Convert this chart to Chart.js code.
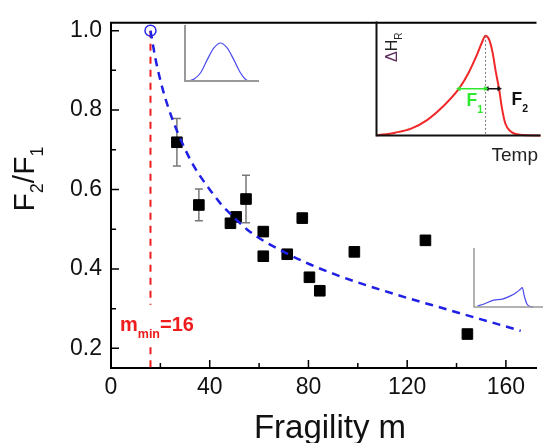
<!DOCTYPE html>
<html>
<head>
<meta charset="utf-8">
<script src="https://cdn.jsdelivr.net/npm/chart.js@4.4.1/dist/chart.umd.min.js"></script>
<style>
  body { margin: 0; background: #fff; }
  #wrap { position: relative; width: 545px; height: 443px; }
  #wrap canvas { position: absolute; }
</style>
</head>
<body>
<div id="wrap">
  <canvas id="main" width="545" height="443" style="left:0;top:0"></canvas>
  <canvas id="insetPeak" width="173" height="123" style="left:372px;top:17px"></canvas>
  <canvas id="insetSym" width="76" height="58" style="left:183px;top:25px"></canvas>
  <canvas id="insetAsym" width="71" height="61" style="left:472px;top:248px"></canvas>
</div>
<script>
// measured points: fragility m vs F2/F1
const fragility = [26.7, 35.6, 48.4, 50.7, 54.7, 61.7, 61.7, 71.4, 77.5, 80.4, 84.6, 98.6, 127.4, 144.4];
const ratio     = [0.719, 0.561, 0.515, 0.531, 0.576, 0.494, 0.432, 0.437, 0.528, 0.379, 0.345, 0.443, 0.472, 0.236];
const ratioErr  = [0.06, 0.04, 0, 0, 0.06, 0, 0, 0, 0, 0, 0, 0, 0, 0];

// dashed fit curve
const fitM     = [16, 18, 20, 22, 25, 29, 33, 36, 40, 45, 49, 55, 62, 70, 80, 90, 100, 110, 120, 130, 140, 150, 160, 166];
const fitRatio = [1.0, 0.93, 0.875, 0.83, 0.775, 0.715, 0.665, 0.635, 0.6, 0.56, 0.535, 0.5, 0.47, 0.443, 0.413, 0.388, 0.366, 0.346, 0.327, 0.309, 0.291, 0.273, 0.255, 0.244];

// m_min marker
const mMin = 16;
const mMinRatio = 1.0;
const mMinLineY = [1.0, 0.31, null, 0.203, 0.1505];

// axes
const xMin = 0, xMax = 172.4;
const yMin = 0.1505, yMax = 1.0198;
const xMajor = [0, 40, 80, 120, 160];
const xMinor = [20, 60, 100, 140];
const yMajor = [0.2, 0.4, 0.6, 0.8, 1.0];
const yMinor = [0.3, 0.5, 0.7, 0.9];

// inset: asymmetric peak, dH_R vs Temp
const peakTemp = [0, 11.3, 21.1, 30.8, 40.5, 50.3, 56.1, 61.0, 64.3, 66.5, 68.8, 70.8, 72.7, 74.7, 76.6, 78.5, 81.5, 87.3, 100];
const peakH    = [0, 0.025, 0.060, 0.135, 0.254, 0.411, 0.548, 0.700, 0.816, 0.874, 0.837, 0.727, 0.562, 0.411, 0.231, 0.107, 0.039, 0.006, 0];
const peakTop = 66.5, peakTopH = 0.874;
const f1From = 50.3, f2To = 74.7, fLevel = 0.411;

// small insets
const symX = [4.3, 9.3, 16, 22.7, 29.3, 36, 42.7, 49.3, 56, 61, 64.3];
const symY = [0.005, 0.035, 0.152, 0.386, 0.591, 0.679, 0.591, 0.386, 0.152, 0.035, 0];
const asymX = [3.7, 10.3, 20, 28.7, 37, 43, 47, 49, 51, 53.7, 57, 60];
const asymY = [0.017, 0.05, 0.117, 0.133, 0.188, 0.245, 0.30, 0.328, 0.188, 0.05, 0.008, 0];

const FONT = "'Liberation Sans', Arial, sans-serif";
const pts = (xs, ys) => xs.map((v, i) => ({ x: v, y: ys[i] }));

function richText(ctx, parts, x, y, align) {
  let w = 0;
  parts.forEach(p => { ctx.font = p.font; p.w = ctx.measureText(p.t).width; w += p.w; });
  let cx = align === 'center' ? x - w / 2 : x;
  parts.forEach(p => {
    ctx.font = p.font;
    ctx.fillStyle = p.color;
    ctx.fillText(p.t, cx, y + (p.dy || 0));
    cx += p.w;
  });
}

const mainDecor = {
  id: 'mainDecor',
  beforeDatasetsDraw(chart) {
    const { ctx, scales: { x, y } } = chart;
    ctx.save();
    ctx.strokeStyle = '#777';
    ctx.lineWidth = 1.5;
    fragility.forEach((m, i) => {
      const e = ratioErr[i];
      if (!e) return;
      const px = x.getPixelForValue(m);
      const top = y.getPixelForValue(ratio[i] + e);
      const bot = y.getPixelForValue(ratio[i] - e);
      ctx.beginPath();
      ctx.moveTo(px, top); ctx.lineTo(px, bot);
      ctx.moveTo(px - 4, top); ctx.lineTo(px + 4, top);
      ctx.moveTo(px - 4, bot); ctx.lineTo(px + 4, bot);
      ctx.stroke();
    });
    ctx.restore();
  },
  afterDraw(chart) {
    const { ctx, chartArea: a, scales: { x, y } } = chart;
    ctx.save();
    // top frame line
    ctx.strokeStyle = '#000';
    ctx.lineWidth = 2;
    ctx.beginPath();
    ctx.moveTo(a.left - 1, a.top);
    ctx.lineTo(a.right, a.top);
    ctx.stroke();

    // inward ticks
    ctx.lineWidth = 1.5;
    ctx.beginPath();
    xMajor.concat(xMinor).forEach(v => {
      const px = x.getPixelForValue(v);
      const len = xMajor.includes(v) ? 8 : 5;
      ctx.moveTo(px, a.bottom); ctx.lineTo(px, a.bottom - len);
    });
    yMajor.concat(yMinor).forEach(v => {
      const py = y.getPixelForValue(v);
      const len = yMajor.includes(v) ? 8 : 5;
      ctx.moveTo(a.left, py); ctx.lineTo(a.left + len, py);
    });
    ctx.stroke();

    ctx.textBaseline = 'alphabetic';
    ctx.textAlign = 'left';

    // y title F2/F1
    ctx.save();
    ctx.translate(34, 179);
    ctx.rotate(-Math.PI / 2);
    const big = '30px ' + FONT, sub = '18px ' + FONT;
    richText(ctx, [
      { t: 'F', font: big, color: '#111' },
      { t: '2', font: sub, color: '#111', dy: 9 },
      { t: '/F', font: big, color: '#111' },
      { t: '1', font: sub, color: '#111', dy: 9 }
    ], 0, 0, 'center');
    ctx.restore();

    // x title
    richText(ctx, [{ t: 'Fragility m', font: '33px ' + FONT, color: '#111' }], 330, 438, 'center');

    // m_min label
    richText(ctx, [
      { t: 'm', font: 'bold 20px ' + FONT, color: '#ee1c1c' },
      { t: 'min', font: 'bold 12.5px ' + FONT, color: '#ee1c1c', dy: 7 },
      { t: '=16', font: 'bold 20px ' + FONT, color: '#ee1c1c' }
    ], 120, 331);

    // inset x label
    richText(ctx, [{ t: 'Temp', font: '19px ' + FONT, color: '#222' }], 491.5, 160.5);
    ctx.restore();
  }
};

new Chart(document.getElementById('main'), {
  type: 'scatter',
  data: {
    datasets: [
      {
        label: 'fit',
        data: pts(fitM, fitRatio),
        showLine: true,
        pointRadius: 0,
        borderColor: '#1f1fe6',
        borderWidth: 2.5,
        borderDash: [8, 6],
        cubicInterpolationMode: 'monotone'
      },
      {
        label: 'm_min',
        data: [{ x: mMin, y: mMinRatio }],
        pointStyle: 'circle',
        pointRadius: 5.5,
        borderColor: '#2a2af0',
        borderWidth: 1.5,
        backgroundColor: 'rgba(0,0,0,0)'
      },
      {
        label: 'data',
        data: pts(fragility, ratio),
        pointStyle: 'rect',
        pointRadius: 7.5,
        backgroundColor: '#000',
        borderColor: '#000',
        borderWidth: 1
      },
      {
        label: 'm_min line',
        data: mMinLineY.map(v => ({ x: mMin, y: v })),
        showLine: true,
        spanGaps: false,
        pointRadius: 0,
        borderColor: '#ee1c1c',
        borderWidth: 2,
        borderDash: [7, 6]
      }
    ]
  },
  options: {
    responsive: false,
    animation: false,
    layout: { padding: { top: 17, left: 0, right: 0, bottom: 0 } },
    plugins: { legend: { display: false }, tooltip: { enabled: false } },
    scales: {
      x: {
        type: 'linear', min: xMin, max: xMax,
        afterBuildTicks: s => { s.ticks = xMajor.map(v => ({ value: v })); },
        afterFit: s => { s.height = 75; },
        grid: { display: false, drawTicks: false },
        border: { display: true, color: '#000', width: 2 },
        ticks: { autoSkip: false, maxRotation: 0, padding: 6, color: '#111', font: { family: FONT, size: 23 },
                 callback: v => String(v) }
      },
      y: {
        type: 'linear', min: yMin, max: yMax,
        afterBuildTicks: s => { s.ticks = yMajor.map(v => ({ value: v })); },
        afterFit: s => { s.width = 111; },
        grid: { display: false, drawTicks: false },
        border: { display: true, color: '#000', width: 2 },
        ticks: { autoSkip: false, padding: 9, color: '#111', font: { family: FONT, size: 23 },
                 callback: v => v.toFixed(1) }
      }
    }
  },
  plugins: [mainDecor]
});

// helper for the small inset plots
function insetChart(id, datasets, xMax, axisColor, axisWidth, extraDraw) {
  return new Chart(document.getElementById(id), {
    type: 'scatter',
    data: { datasets },
    options: {
      responsive: false,
      animation: false,
      layout: { padding: { left: 2, bottom: 2, top: 0, right: 0 } },
      plugins: { legend: { display: false }, tooltip: { enabled: false } },
      scales: {
        x: { type: 'linear', min: 0, max: xMax, display: false },
        y: { type: 'linear', min: 0, max: 1, display: false }
      }
    },
    plugins: [{
      id: 'insetAxes',
      afterDraw(chart) {
        const { ctx, chartArea: a } = chart;
        ctx.save();
        ctx.strokeStyle = axisColor;
        ctx.lineWidth = axisWidth;
        ctx.beginPath();
        ctx.moveTo(a.left, a.top);
        ctx.lineTo(a.left, a.bottom);
        ctx.lineTo(a.right, a.bottom);
        ctx.stroke();
        if (extraDraw) extraDraw(ctx, a);
        ctx.restore();
      }
    }]
  });
}

const curve = (xs, ys, color, w) => ({
  data: pts(xs, ys), showLine: true, pointRadius: 0,
  borderColor: color, borderWidth: w, cubicInterpolationMode: 'monotone', clip: false
});
const arrow = (x0, x1, color) => ({
  data: [{ x: x0, y: fLevel }, { x: x1, y: fLevel }],
  showLine: true, borderColor: color, borderWidth: 1.5,
  pointStyle: 'triangle', pointRadius: 2.5, pointRotation: [-90, 90],
  backgroundColor: color, pointBorderColor: color, pointBorderWidth: 0.5
});

insetChart('insetPeak', [
  arrow(f1From, peakTop, '#2ee82e'),
  arrow(peakTop + 0.9, f2To, '#111'),
  {
    data: [{ x: peakTop, y: peakTopH }, { x: peakTop, y: 0 }],
    showLine: true, pointRadius: 0, borderColor: '#777', borderWidth: 1, borderDash: [2, 2]
  },
  curve(peakTemp, peakH, '#f02828', 2)
], 100, '#111', 2, (ctx) => {
  ctx.textBaseline = 'alphabetic';
  ctx.textAlign = 'left';
  richText(ctx, [
    { t: 'F', font: 'bold 17.5px ' + FONT, color: '#2ee82e' },
    { t: '1', font: 'bold 10.5px ' + FONT, color: '#2ee82e', dy: 7 }
  ], 94.5, 89);
  richText(ctx, [
    { t: 'F', font: 'bold 17.5px ' + FONT, color: '#111' },
    { t: '2', font: 'bold 10.5px ' + FONT, color: '#111', dy: 7 }
  ], 139.5, 88);
  ctx.save();
  ctx.translate(24.5, 45);
  ctx.rotate(-Math.PI / 2);
  richText(ctx, [
    { t: '\u0394', font: '16px ' + FONT, color: '#5a2a5a' },
    { t: 'H', font: '16px ' + FONT, color: '#222' },
    { t: 'R', font: '10px ' + FONT, color: '#222', dy: 5 }
  ], 0, 0);
  ctx.restore();
});

insetChart('insetSym', [curve(symX, symY, '#4a4aee', 1.2)], 75, '#999', 2);
insetChart('insetAsym', [curve(asymX, asymY, '#4a4aee', 1.2)], 70, '#999', 1.5);
</script>
</body>
</html>
